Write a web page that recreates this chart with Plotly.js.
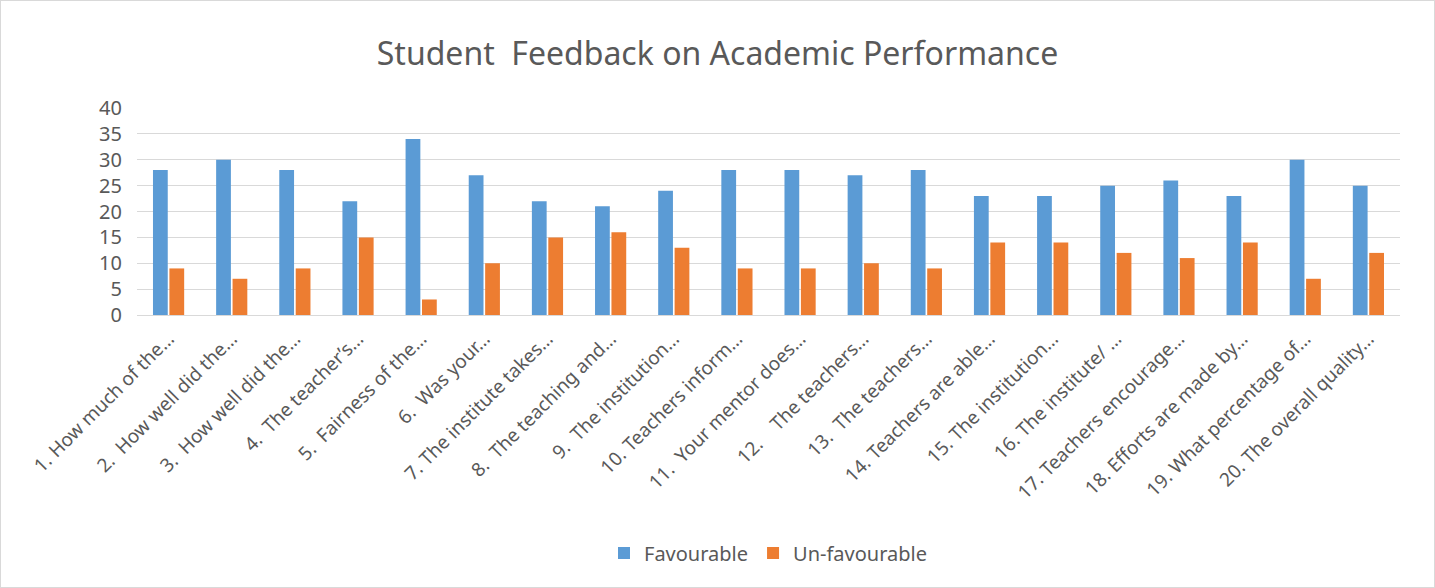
<!DOCTYPE html>
<html>
<head>
<meta charset="utf-8">
<script src="https://cdn.plot.ly/plotly-3.0.1.min.js"></script>
<style>
html,body{margin:0;padding:0;background:#fff;}
#chart{width:1435px;height:588px;box-sizing:border-box;border:1px solid #d9d9d9;}
</style>
</head>
<body>
<div id="chart"></div>
<script>
var NB = '\u00a0';
var categories = [
  "1. How much of the…",
  "2." + NB + NB + "How well did the…",
  "3." + NB + NB + "How well did the…",
  "4." + NB + NB + "The teacher’s…",
  "5." + NB + NB + "Fairness of the…",
  "6." + NB + NB + "Was your…",
  "7. The institute takes…",
  "8." + NB + NB + "The teaching and…",
  "9." + NB + NB + "The institution…",
  "10. Teachers inform…",
  "11." + NB + NB + "Your mentor does…",
  "12." + NB + NB + NB + NB + "The teachers…",
  "13." + NB + NB + "The teachers…",
  "14. Teachers are able…",
  "15. The institution…",
  "16. The institute/ …",
  "17. Teachers encourage…",
  "18. Efforts are made by…",
  "19. What percentage of…",
  "20. The overall quality…"
];
var favourable = [28,30,28,22,34,27,22,21,24,28,28,27,28,23,23,25,26,23,30,25];
var unfavourable = [9,7,9,15,3,10,15,16,13,9,9,10,9,14,14,12,11,14,7,12];
var seriesNames = ["Favourable", "Un-favourable"];
var yTicks = [0,5,10,15,20,25,30,35,40];

var font = "Noto Sans, Open Sans, sans-serif";
var data = [
  {type:'bar', x:categories, y:favourable, name:seriesNames[0], marker:{color:'#5b9bd5'}, hoverinfo:'y'},
  {type:'bar', x:categories, y:unfavourable, name:seriesNames[1], marker:{color:'#ed7d31'}, hoverinfo:'y'}
];
var layout = {
  width:1433, height:586,
  paper_bgcolor:'#fff', plot_bgcolor:'#fff',
  margin:{l:136, r:34, t:107, b:272},
  title:{text:"Student  Feedback on Academic Performance", font:{family:font, size:32, color:'#595959'}, x:0.5, xanchor:'center', y:0.91, yanchor:'middle'},
  barmode:'group', bargap:0.48, bargroupgap:0.1,
  xaxis:{tickangle:-45, tickfont:{family:font, size:19, color:'#595959'}, showgrid:false, showline:true, linecolor:'#d9d9d9', ticks:'', automargin:false, ticklabelstandoff:4},
  yaxis:{range:[0,40], tickvals:yTicks, tickfont:{family:font, size:20, color:'#595959'}, gridcolor:'#d9d9d9', gridwidth:1, zeroline:false, showline:false, ticks:'', ticklabelstandoff:14},
  legend:{orientation:'h', x:0.5, xanchor:'center', xref:'paper', y:-1.15, yanchor:'middle', font:{family:font, size:20, color:'#595959'}, itemwidth:30, traceorder:'normal'},
  showlegend:true
};
Plotly.newPlot('chart', data, layout, {displayModeBar:false, staticPlot:true});
</script>
</body>
</html>
